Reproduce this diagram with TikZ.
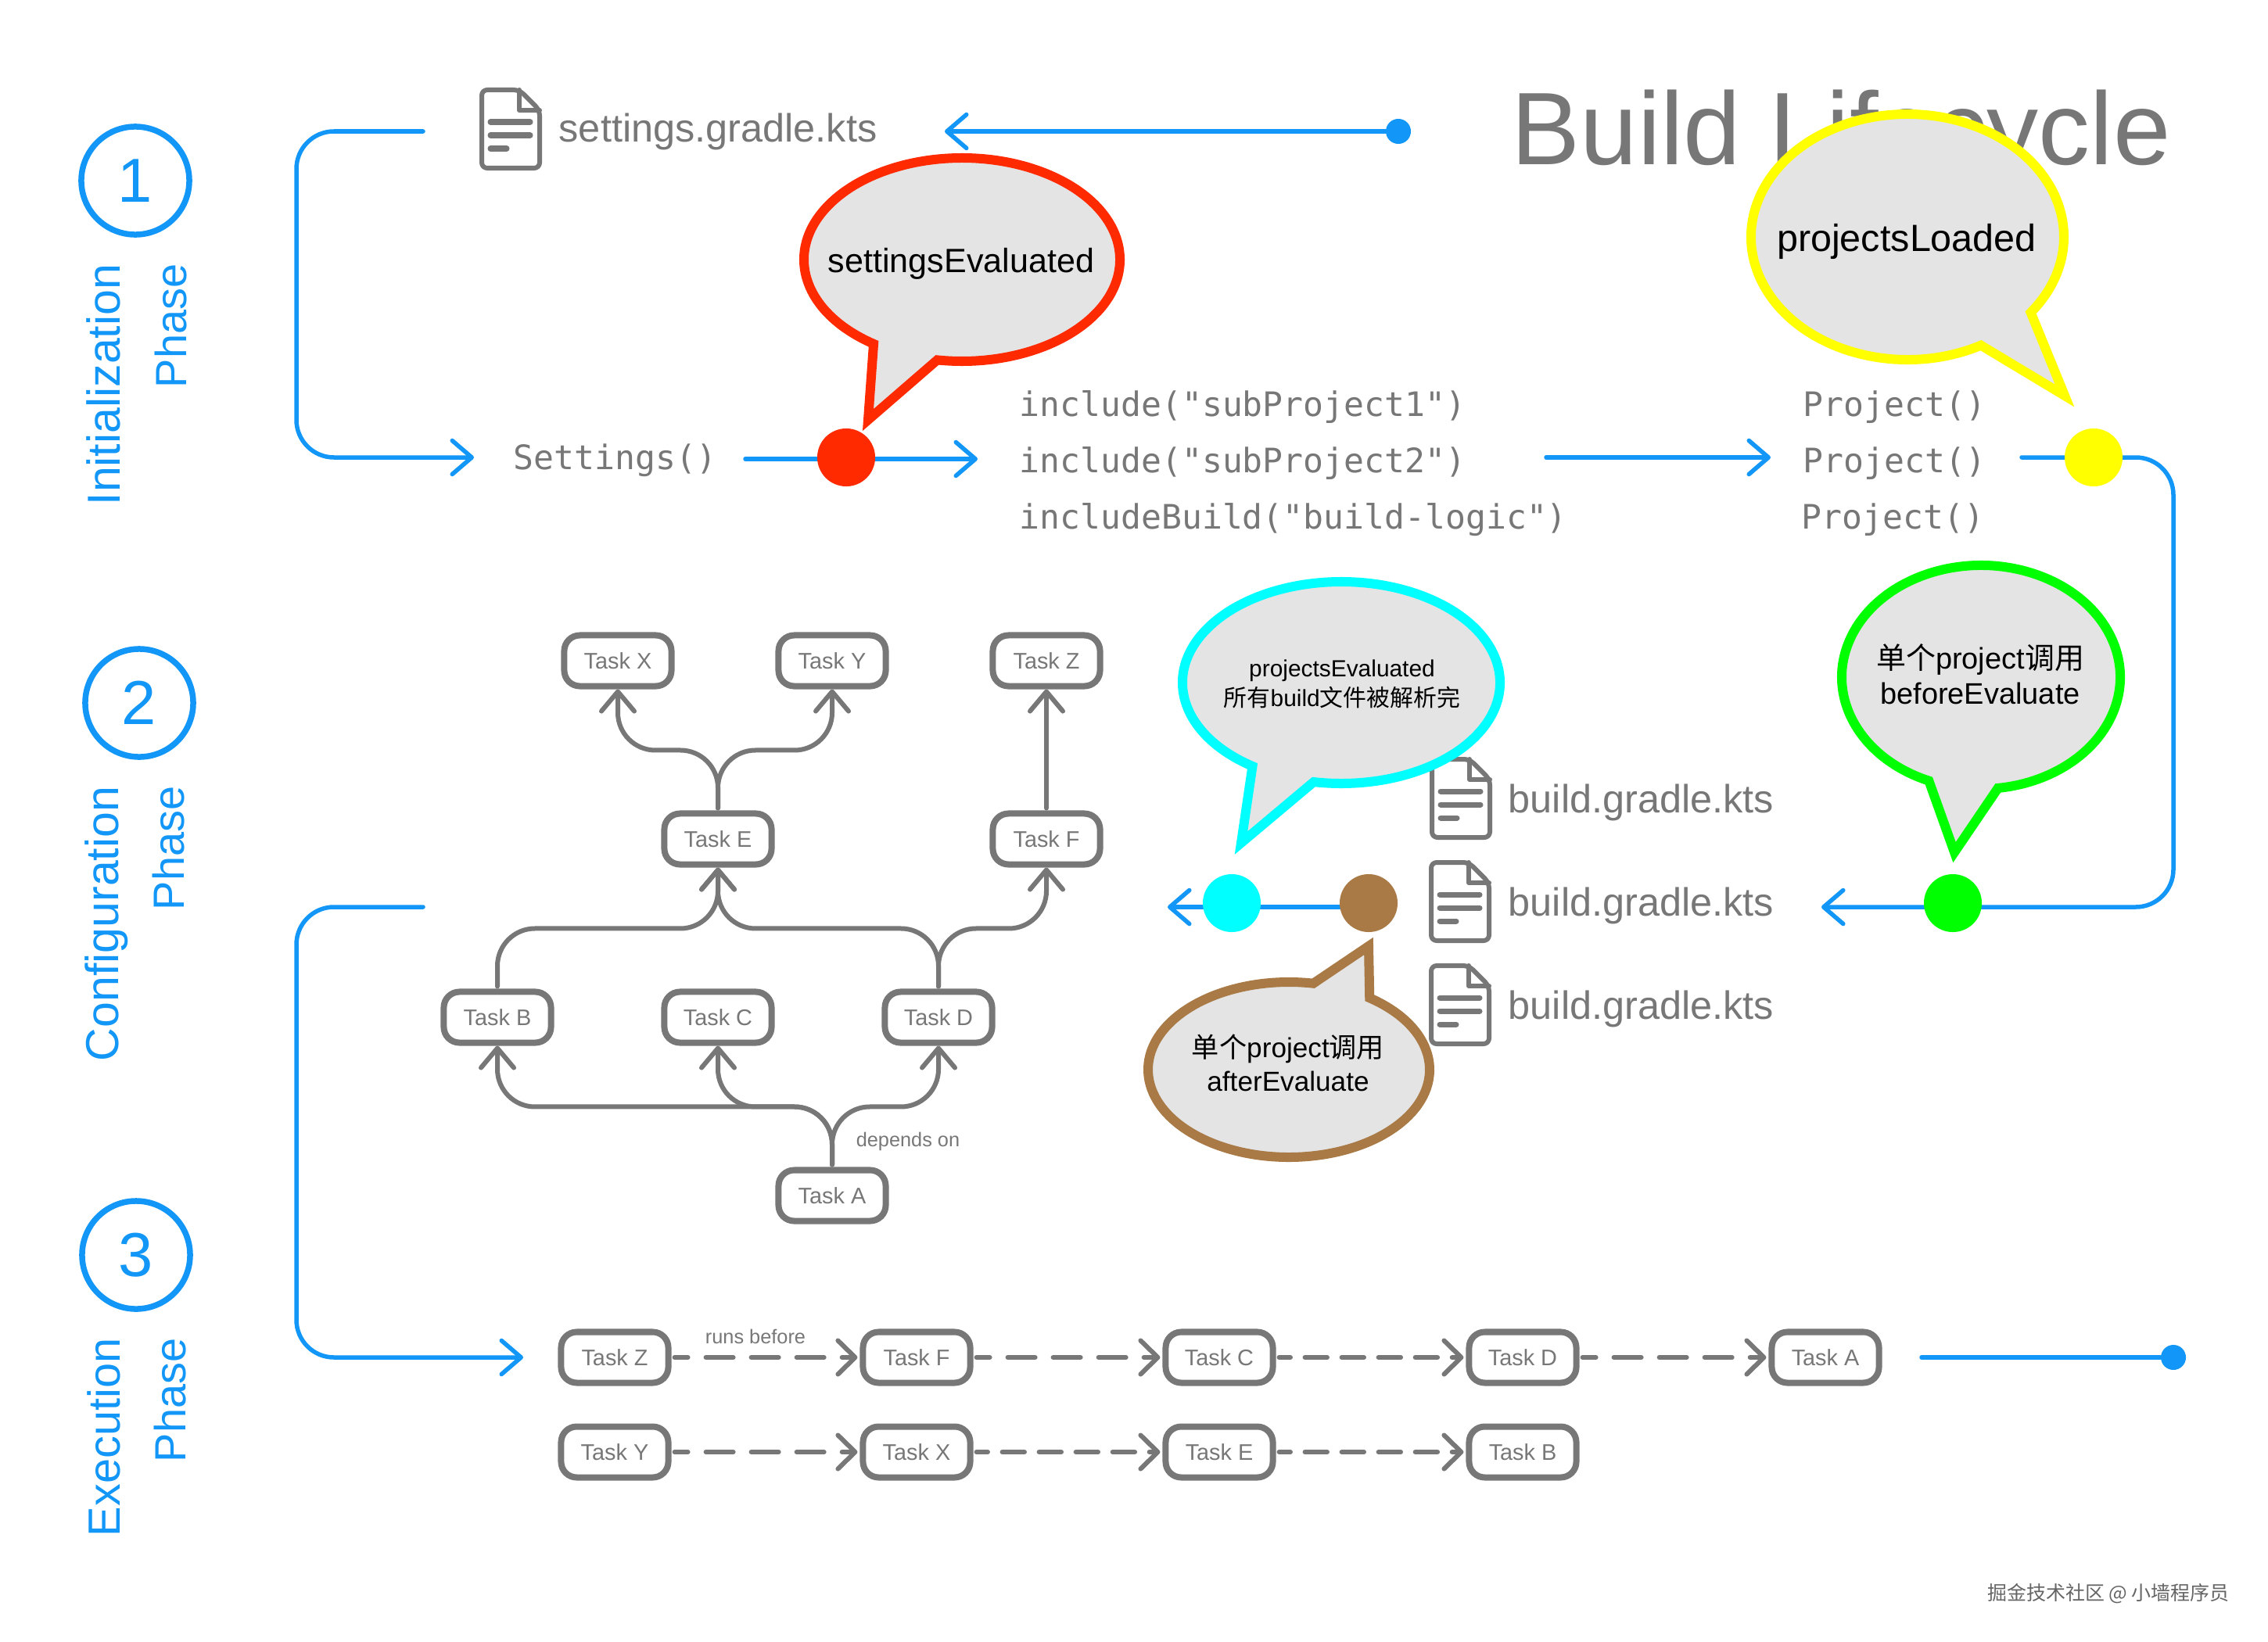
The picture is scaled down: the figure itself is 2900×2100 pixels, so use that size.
\documentclass[tikz,border=0pt]{standalone}
\usepackage{fontspec}
\usepackage{xcolor}
\usepackage{tikz}
\usetikzlibrary{arrows.meta}
\setmainfont{Liberation Sans}
\setmonofont{DejaVu Sans Mono}
\newfontfamily\cjk{Noto Sans CJK SC}
\newcommand{\fsz}[2]{\fontsize{#1}{#2}\selectfont}
\definecolor{flowblue}{HTML}{1296F7}
\definecolor{taskgray}{HTML}{777777}
\definecolor{bubblefill}{HTML}{E4E4E4}
\definecolor{hookred}{HTML}{FF2A00}
\definecolor{hookbrown}{HTML}{A97A45}
\definecolor{hookyellow}{HTML}{FFFF00}
\definecolor{hookcyan}{HTML}{00FFFF}
\definecolor{hookgreen}{HTML}{00FF00}
\tikzset{
    flow/.style={draw=flowblue, line width=0.055cm, line cap=round, rounded corners=0.48cm},
    flowtip/.style={flow, -{Straight Barb[length=0.25cm,width=0.43cm,round]}},
    enddot/.style={circle, fill=flowblue, inner sep=0pt, minimum size=0.32cm},
    hookdot/.style={circle, inner sep=0pt, minimum size=0.74cm},
    phasering/.style={circle, draw=flowblue, line width=0.075cm, inner sep=0pt, minimum size=1.38cm,
        text=flowblue, font=\fsz{22.6}{26}},
    phaselabel/.style={rotate=90, anchor=base east, inner sep=0pt, text=flowblue, font=\fsz{16.8}{20}},
    phaseword/.style={phaselabel, font=\fsz{15.9}{20}},
    taskbox/.style={draw=taskgray, line width=0.08cm, rounded corners=0.2cm, inner sep=0pt,
        minimum width=1.37cm, minimum height=0.65cm, text=taskgray, font=\fsz{8.2}{10}},
    dep/.style={draw=taskgray, line width=0.06cm, line cap=round, rounded corners=0.48cm, shorten <=0.03cm,
        -{Straight Barb[length=0.25cm,width=0.42cm,round]}},
    runs/.style={draw=taskgray, line width=0.06cm, line cap=round, shorten <=0.04cm, shorten >=0.03cm,
        dash pattern=on 0.35cm off 0.23cm, dash phase=0.18cm,
        -{Straight Barb[length=0.22cm,width=0.43cm,round]}},
    runsshort/.style={runs, dash pattern=on 0.284cm off 0.186cm, dash phase=0.14cm},
    small/.style={inner sep=0pt, text=taskgray, font=\fsz{7.2}{9}},
    code/.style={anchor=base west, inner sep=0pt, text=taskgray, font=\ttfamily\fsz{12.25}{14}},
    filename/.style={anchor=base west, inner sep=0pt, text=taskgray, font=\fsz{14.35}{17}},
    bubble/.style={fill=bubblefill, line width=0.12cm, miter limit=10},
    bubbletext/.style={align=center, inner sep=0pt, text=black},
    iconline/.style={draw=taskgray, line width=0.06cm, line cap=round, line join=round},
    fileicon/.pic={
        \draw[iconline, rounded corners=0.07cm] (11,-50) -- (-37,-50) -- (-37,50) -- (37,50) -- (37,-24) -- cycle;
        \draw[iconline] (11,-50) -- (11,-24) -- (37,-24);
        \draw[iconline, line width=0.07cm] (-26,-9) -- (25,-9);
        \draw[iconline, line width=0.07cm] (-26,8) -- (25,8);
        \draw[iconline, line width=0.07cm] (-26,25) -- (-5,25);
    }
}
\begin{document}
\begin{tikzpicture}[x=0.01cm, y=-0.01cm]
    \useasboundingbox (0,0) rectangle (2900,2100);

    \node[anchor=base west, inner sep=0pt, text=taskgray, font=\fsz{37.5}{40}] (title) at (1932,210) {Build Lifecycle};

    % phases
    \node[phasering] (one)   at (173,231)  {1};
    \node[phasering] (two)   at (178,899)  {2};
    \node[phasering] (three) at (174,1605) {3};

    \node[phaselabel] (initLabel) at (153,337)  {Initialization};
    \node[phaseword]  (initPhase) at (238,337)  {Phase};
    \node[phaselabel] (confLabel) at (151,1005) {Configuration};
    \node[phaseword]  (confPhase) at (235,1005) {Phase};
    \node[phaselabel, font=\fsz{16.4}{20}] (execLabel) at (153,1711) {Execution};
    \node[phaseword]  (execPhase) at (237,1711) {Phase};

    % blue flow
    \node[enddot] (startDot) at (1788,168) {};
    \node[enddot] (endDot)   at (2779,1736) {};

    \coordinate (settingsTip) at (1208,168);
    \coordinate (leftA)  at (541,168);
    \coordinate (leftB)  at (606,585);
    \coordinate (leftC)  at (541,1160);
    \coordinate (leftD)  at (669,1736);
    \coordinate (redFrom) at (953,587);
    \coordinate (redTip)  at (1250,587);
    \coordinate (includeFrom) at (1977,585);
    \coordinate (includeTip)  at (2264,585);
    \coordinate (yellowFrom)  at (2585,585);
    \coordinate (greenTip)    at (2329,1160);
    \coordinate (brownFrom)   at (1750,1160);
    \coordinate (brownTip)    at (1493,1160);
    \coordinate (endFrom)     at (2457,1736);

    \draw[flowtip] (startDot) -- (settingsTip);
    \draw[flowtip] (leftA) -- (379,168) -- (379,585) -- (leftB);
    \draw[flowtip] (leftC) -- (379,1160) -- (379,1736) -- (leftD);
    \draw[flowtip] (redFrom) -- (redTip);
    \draw[flowtip] (includeFrom) -- (includeTip);
    \draw[flowtip] (yellowFrom) -- (2779,585) -- (2779,1160) -- (greenTip);
    \draw[flowtip] (brownFrom) -- (brownTip);
    \draw[flow] (endFrom) -- (endDot);

    % files and code
    \pic (settingsIcon) at (653,165)  {fileicon};
    \pic (buildIconA)   at (1868,1021) {fileicon};
    \pic (buildIconB)   at (1867,1153) {fileicon};
    \pic (buildIconC)   at (1867,1285) {fileicon};

    \node[filename] (settingsFile) at (714,182)   {settings.gradle.kts};
    \node[filename] (buildFileA)   at (1928,1039) {build.gradle.kts};
    \node[filename] (buildFileB)   at (1928,1171) {build.gradle.kts};
    \node[filename] (buildFileC)   at (1928,1303) {build.gradle.kts};

    \node[code] (settingsCall) at (656,600)  {Settings()};
    \node[code] (includeA)     at (1303,532) {include("subProject1")};
    \node[code] (includeB)     at (1303,604) {include("subProject2")};
    \node[code] (includeC)     at (1303,676) {includeBuild("build-logic")};
    \node[code] (projectA)     at (2305,532) {Project()};
    \node[code] (projectB)     at (2305,604) {Project()};
    \node[code] (projectC)     at (2303,676) {Project()};

    % depends on graph
    \node[taskbox] (X) at (790,845)   {Task X};
    \node[taskbox] (Y) at (1064,845)  {Task Y};
    \node[taskbox] (Z) at (1338,845)  {Task Z};
    \node[taskbox] (E) at (918,1073)  {Task E};
    \node[taskbox] (F) at (1338,1073) {Task F};
    \node[taskbox] (B) at (636,1301)  {Task B};
    \node[taskbox] (C) at (918,1301)  {Task C};
    \node[taskbox] (D) at (1200,1301) {Task D};
    \node[taskbox] (A) at (1064,1529) {Task A};

    \draw[dep] (E.north) -- ++(0,-77) -| (X.south);
    \draw[dep] (E.north) -- ++(0,-77) -| (Y.south);
    \draw[dep] (F.north) -- (Z.south);
    \draw[dep] (B.north) -- ++(0,-77) -| (E.south);
    \draw[dep] (D.north) -- ++(0,-77) -| (E.south);
    \draw[dep] (D.north) -- ++(0,-77) -| (F.south);
    \draw[dep] (A.north) -- ++(0,-77) -| (B.south);
    \draw[dep] (A.north) -- ++(0,-77) -| (C.south);
    \draw[dep] (A.north) -- ++(0,-77) -| (D.south);

    \node[small] (dependsOn) at (1161,1460) {depends on};

    % runs before rows
    \node[taskbox] (runZ) at (786,1736)  {Task Z};
    \node[taskbox] (runF) at (1172,1736) {Task F};
    \node[taskbox] (runC) at (1559,1736) {Task C};
    \node[taskbox] (runD) at (1947,1736) {Task D};
    \node[taskbox] (runA) at (2334,1736) {Task A};

    \node[taskbox] (runY) at (786,1857)  {Task Y};
    \node[taskbox] (runX) at (1172,1857) {Task X};
    \node[taskbox] (runE) at (1559,1857) {Task E};
    \node[taskbox] (runB) at (1947,1857) {Task B};

    \draw[runs] (runZ) -- (runF);
    \draw[runs] (runF) -- (runC);
    \draw[runsshort] (runC) -- (runD);
    \draw[runs] (runD) -- (runA);
    \draw[runs] (runY) -- (runX);
    \draw[runsshort] (runX) -- (runE);
    \draw[runsshort] (runE) -- (runB);

    \node[small] (runsBefore) at (966,1709) {runs before};

    % hooks
    \draw[bubble, draw=hookred] (1230,332) ++(124:202 and 130)
        arc[start angle=124, end angle=459, x radius=202, y radius=130] -- (1110,537) -- cycle;
    \draw[bubble, draw=hookyellow] (2439,303) ++(62:200 and 157)
        arc[start angle=62, end angle=398, x radius=200, y radius=157] -- (2640,506) -- cycle;
    \draw[bubble, draw=hookcyan] (1715,873) ++(124:203 and 129)
        arc[start angle=124, end angle=460, x radius=203, y radius=129] -- (1587,1078) -- cycle;
    \draw[bubble, draw=hookgreen] (2533,866) ++(112:178 and 143)
        arc[start angle=112, end angle=443, x radius=178, y radius=143] -- (2499,1090) -- cycle;
    \draw[bubble, draw=hookbrown] (1648,1368) ++(-55:180 and 112)
        arc[start angle=-55, end angle=280, x radius=180, y radius=112] -- (1750,1210) -- cycle;

    \node[hookdot, fill=hookred]    (redDot)    at (1082,585)  {};
    \node[hookdot, fill=hookyellow] (yellowDot) at (2677,585)  {};
    \node[hookdot, fill=hookgreen]  (greenDot)  at (2497,1155) {};
    \node[hookdot, fill=hookcyan]   (cyanDot)   at (1575,1155) {};
    \node[hookdot, fill=hookbrown]  (brownDot)  at (1750,1155) {};

    \node[bubbletext, font=\fsz{12.25}{15}] (settingsEvaluated) at (1229,337) {settingsEvaluated};
    \node[bubbletext, font=\fsz{13.8}{17}]  (projectsLoaded)    at (2438,309) {projectsLoaded};
    \node[bubbletext, font=\fsz{8.5}{10.8}] (projectsEvaluated) at (1716,875)
        {projectsEvaluated\\{\cjk 所有}build{\cjk 文件被解析完}};
    \node[bubbletext, font=\fsz{10.8}{12.8}] (beforeEvaluate) at (2532,862)
        {{\cjk 单个}project{\cjk 调用}\\beforeEvaluate};
    \node[bubbletext, font=\fsz{10}{12.2}] (afterEvaluate) at (1647,1359)
        {{\cjk 单个}project{\cjk 调用}\\afterEvaluate};

    \node[inner sep=0pt, text=taskgray!85!black, font=\cjk\fsz{7.1}{9}] (credit) at (2696,2038) {掘金技术社区 @ 小墙程序员};
\end{tikzpicture}
\end{document}
